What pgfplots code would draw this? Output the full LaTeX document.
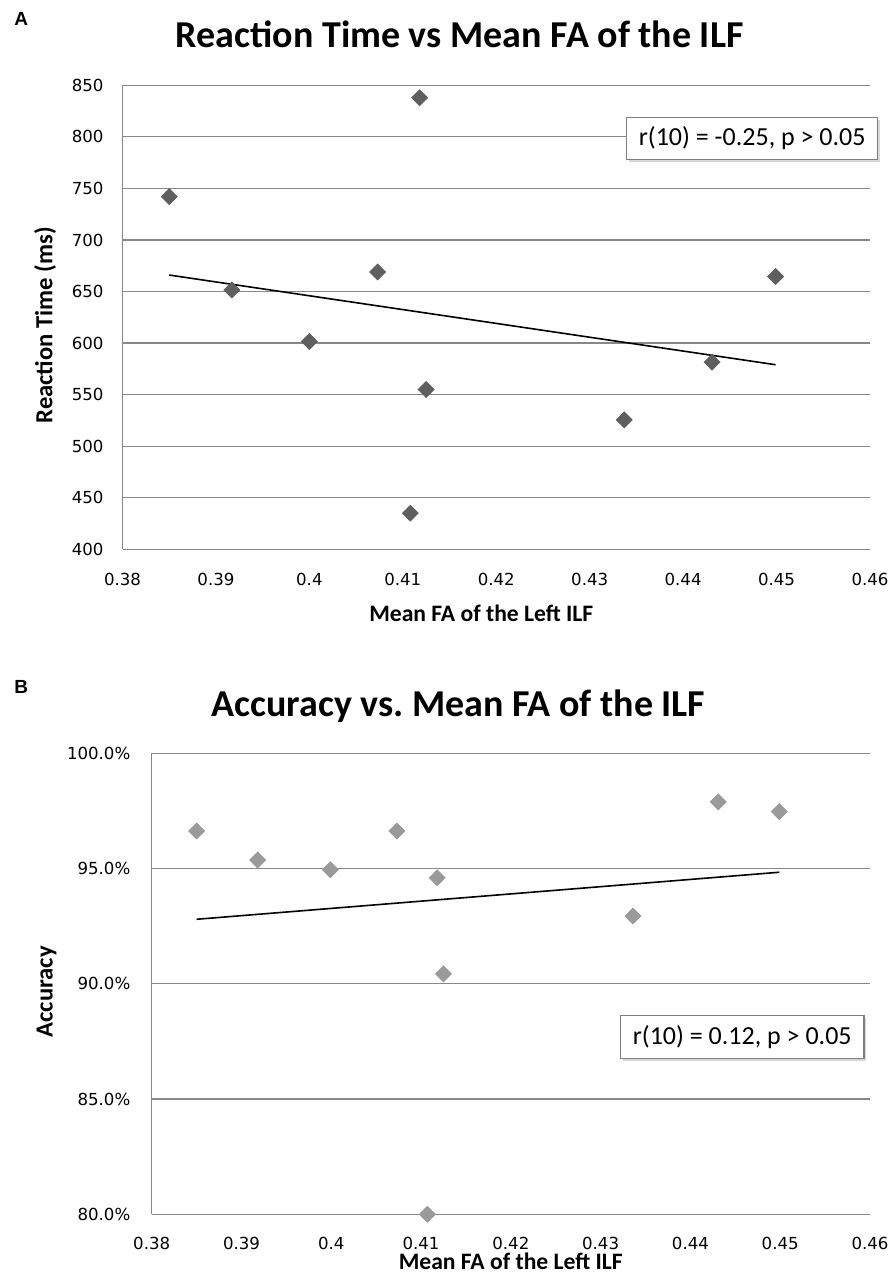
\documentclass[border=0pt]{standalone}
\usepackage{pgfplots}
\pgfplotsset{compat=1.18}
\usepackage{fontspec}
\setmainfont{Carlito}
\newfontfamily\tickfont{DejaVu Sans}
\newfontfamily\panelfont{Liberation Sans}
\usetikzlibrary{shadows}
\definecolor{gridgray}{HTML}{878787}
\definecolor{markA}{HTML}{5F5F5F}
\definecolor{markB}{HTML}{9A9A9A}
\definecolor{boxgray}{HTML}{7F7F7F}

\pgfplotsset{
  excelstyle/.style={
    scale only axis,
    clip=false,
    /pgf/number format/assume math mode=true,
    tick label style={font=\tickfont\fontsize{8.3}{10}\selectfont, inner sep=0pt},
    major tick length=0pt,
    ymajorgrids,
    grid style={gridgray, line width=0.6pt},
    axis x line*=bottom,
    axis y line*=left,
    x axis line style={-, gridgray, line width=0.6pt},
    y axis line style={-, gridgray, line width=0.6pt},
    xmin=0.38, xmax=0.46,
    xtick={0.38,0.39,0.40,0.41,0.42,0.43,0.44,0.45,0.46},
    xticklabels={0.38,0.39,0.4,0.41,0.42,0.43,0.44,0.45,0.46},
    xticklabel style={anchor=base},
    yticklabel style={anchor=east},
  },
  trend/.style={black, line width=0.8pt, no marks},
}

\begin{document}
\begin{tikzpicture}
\useasboundingbox (0,0) rectangle (446pt,-636.5pt);

% ---------------- Panel A ----------------
\begin{axis}[excelstyle,
  at={(61.25pt,-274.65pt)}, anchor=south west,
  width=373.75pt, height=232pt,
  ymin=400, ymax=850,
  ytick={400,450,500,550,600,650,700,750,800,850},
  xticklabel style={yshift=-17.85pt},
  yticklabel style={xshift=-9.3pt},
]
\addplot[only marks, mark=square*, mark size=2.8pt,
  mark options={rotate=45, draw=markA, fill=markA}] coordinates {
  (0.3850,742) (0.4118,838) (0.4073,669) (0.3917,651.5) (0.4000,601.5)
  (0.4125,555) (0.4108,435) (0.4337,525.5) (0.4431,581.5) (0.4499,664.5)
};
\addplot[trend] coordinates {(0.3850,666) (0.4499,579)};
\end{axis}

% ---------------- Panel B ----------------
\begin{axis}[excelstyle,
  at={(75.85pt,-607.15pt)}, anchor=south west,
  width=359.15pt, height=230.5pt,
  ymin=80, ymax=100,
  ytick={80,85,90,95,100},
  yticklabel={\pgfmathprintnumber[fixed,fixed zerofill,precision=1]{\tick}\%},
  xticklabel style={yshift=-17.35pt},
  yticklabel style={xshift=-10.5pt},
]
\addplot[only marks, mark=square*, mark size=2.8pt,
  mark options={rotate=45, draw=markB, fill=markB}] coordinates {
  (0.3850,96.63) (0.3918,95.37) (0.3999,94.95) (0.4073,96.63) (0.4118,94.60)
  (0.4125,90.43) (0.4107,80.0) (0.4336,92.94) (0.4431,97.89) (0.4499,97.47)
};
\addplot[trend] coordinates {(0.3850,92.80) (0.4499,94.84)};
\end{axis}

% ---------------- Text ----------------
\node[anchor=base west, inner sep=0pt, font=\panelfont\bfseries\fontsize{9.5}{11}\selectfont] at (7pt,-13pt) {A};
\node[anchor=base west, inner sep=0pt, font=\panelfont\bfseries\fontsize{9.5}{11}\selectfont] at (7pt,-346.5pt) {B};

\node[anchor=base, inner sep=0pt, font=\bfseries\fontsize{19}{22}\selectfont] at (229.9pt,-23.65pt) {Reaction Time vs Mean FA of the ILF};
\node[anchor=base, inner sep=0pt, font=\bfseries\fontsize{19}{22}\selectfont] at (229.25pt,-358pt) {Accuracy vs.\ Mean FA of the ILF};

\node[anchor=base, inner sep=0pt, font=\bfseries\fontsize{11.8}{14}\selectfont] at (240.65pt,-310.5pt) {Mean FA of the Left ILF};
\node[anchor=base, inner sep=0pt, rotate=90, font=\bfseries\fontsize{12.3}{14}\selectfont] at (26.15pt,-162.65pt) {Reaction Time (ms)};

\node[anchor=base, inner sep=0pt, font=\bfseries\fontsize{11.8}{14}\selectfont] at (255.4pt,-634.6pt) {Mean FA of the Left ILF};
\node[anchor=base, inner sep=0pt, rotate=90, font=\bfseries\fontsize{12.3}{14}\selectfont] at (26.25pt,-495.85pt) {Accuracy};

\node[draw=boxgray, line width=0.6pt, fill=white, minimum width=125.5pt, minimum height=21pt, inner sep=0pt,
  drop shadow={shadow xshift=1.2pt, shadow yshift=-1.2pt, fill=black!30},
  font=\fontsize{13}{15}\selectfont] at (376.1pt,-69.15pt) {r(10) = -0.25, p > 0.05};
\node[draw=boxgray, line width=0.6pt, fill=white, minimum width=121.8pt, minimum height=21.5pt, inner sep=0pt,
  drop shadow={shadow xshift=1.2pt, shadow yshift=-1.2pt, fill=black!30},
  font=\fontsize{13}{15}\selectfont] at (371.1pt,-518.4pt) {r(10) = 0.12, p > 0.05};
\end{tikzpicture}
\end{document}
